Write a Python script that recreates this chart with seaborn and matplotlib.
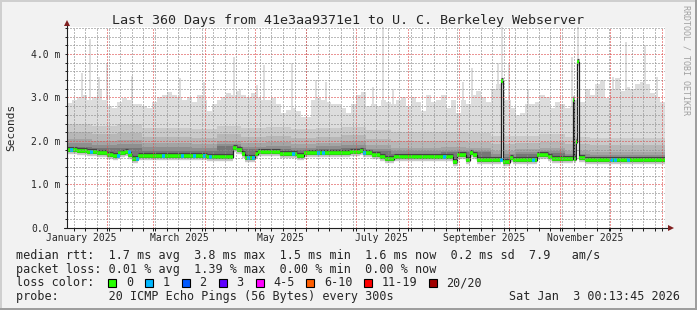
import numpy as np
import pandas as pd
import matplotlib
matplotlib.use("Agg")
import matplotlib.pyplot as plt
import matplotlib.transforms as mtransforms
from matplotlib.patches import Rectangle
import seaborn as sns

# ------------------------------------------------------------------ data
title = "Last 360 Days from 41e3aa9371e1 to U. C. Berkeley Webserver"
start_time = "2025-01-08 00:13:45"
span_days = 360

# light smoke (max ping) envelope, 3-day bins, ms
max_bin_days = 3
max_ms = [2.87, 2.95, 3.00, 3.05, 2.95, 3.00, 3.20, 2.95, 2.80, 2.75,
          2.90, 2.98, 2.95, 2.85, 2.85, 2.80, 2.75, 2.90, 3.00, 3.05,
          3.13, 3.05, 3.00, 2.95, 3.00, 2.90, 3.05, 2.95, 2.70, 2.85,
          2.95, 3.00, 3.10, 3.05, 3.15, 3.05, 3.00, 3.10, 3.00, 2.95,
          2.95, 2.98, 2.85, 2.65, 2.72, 2.75, 2.70, 2.55, 2.55, 2.95,
          2.98, 2.95, 2.90, 2.85, 2.85, 2.75, 2.65, 2.85, 3.05, 3.13,
          2.80, 2.85, 2.80, 2.95, 2.90, 2.85, 2.95, 3.00, 2.80, 3.00,
          2.90, 2.70, 3.05, 2.90, 2.95, 3.05, 2.75, 2.95, 2.65, 2.95,
          2.85, 3.05, 3.15, 3.00, 2.90, 3.20, 3.30, 2.95, 2.95, 2.75,
          2.60, 2.65, 2.85, 2.85, 2.90, 3.05, 3.00, 2.75, 2.90, 2.85,
          2.75, 2.80, 2.95, 2.90, 3.20, 3.05, 3.30, 3.40, 2.98, 3.20,
          3.45, 3.15, 3.25, 3.20, 3.30, 3.35, 3.30, 3.10, 3.00, 2.90]

# narrow max-ping spikes (day, ms)
spike_day = [9.0, 13.8, 19.3, 23.8, 39.1, 68.3, 82.5, 100.5, 104.2, 114.4,
             118.6, 135.2, 149.9, 155.9, 184.2, 190.5, 196.3, 238.4, 243.8,
             259.5, 261.9, 266.1, 277.5, 304.0, 307.6, 328.7, 336.5, 347.9,
             355.1]
spike_ms = [3.56, 4.34, 3.48, 3.80, 3.49, 3.44, 3.36, 3.94, 3.19, 3.29,
            3.75, 3.79, 3.40, 3.35, 3.25, 4.70, 3.20, 3.36, 3.67,
            3.79, 4.70, 3.79, 3.20, 3.94, 4.70, 3.48, 4.28, 4.20,
            3.48]

# inner smoke band tops, 15-day bins, ms
band_bin_days = 15
band2_ms = [2.40, 2.35, 2.38, 2.30, 2.30, 2.28, 2.35, 2.30, 2.32, 2.28, 2.30, 2.33,
            2.25, 2.20, 2.20, 2.20, 2.18, 2.12, 2.12, 2.15, 2.10, 2.08, 2.08, 2.08]
band3_ms = [2.20, 2.15, 2.18, 2.10, 2.10, 2.08, 2.15, 2.10, 2.12, 2.08, 2.10, 2.13,
            2.05, 2.00, 2.00, 2.00, 1.98, 1.93, 1.95, 1.97, 1.92, 1.90, 1.90, 1.90]
band4_ms = [2.05, 2.00, 2.02, 1.95, 1.95, 1.93, 2.00, 1.95, 1.98, 1.94, 1.96, 1.99,
            1.90, 1.85, 1.85, 1.86, 1.84, 1.78, 1.82, 1.84, 1.77, 1.75, 1.75, 1.75]
band5_ms = [1.95, 1.91, 1.92, 1.86, 1.86, 1.84, 1.92, 1.87, 1.89, 1.85, 1.88, 1.90,
            1.82, 1.76, 1.76, 1.78, 1.76, 1.70, 1.75, 1.77, 1.69, 1.67, 1.67, 1.67]
band6_ms = [1.87, 1.84, 1.84, 1.78, 1.78, 1.77, 1.88, 1.82, 1.82, 1.79, 1.82, 1.85,
            1.78, 1.71, 1.71, 1.74, 1.74, 1.64, 1.70, 1.72, 1.63, 1.62, 1.62, 1.62]
band_colors = ["#dddddd", "#cacaca", "#b7b7b7", "#a4a4a4", "#8f8f8f", "#767676"]

# median rtt step function: segment start day and value (ms)
median_day = [0, 6, 12, 18, 24, 27.7, 30.7, 34.9, 37, 39.1,
              42.7, 84.3, 100.2, 102.3, 105.4, 107.2, 113.2, 115, 122.2, 128.2,
              138.5, 142.7, 170.4, 176.4, 178.2, 183.6, 188.4, 191.4, 196.9, 232.4,
              234.8, 240.2, 242.6, 244.7, 246.8, 261.5, 262.3, 266.7, 268.5, 283,
              289.6, 292, 304.5, 305.4, 306.4, 307.3, 308.2, 311.9]
median_ms = [1.79, 1.77, 1.74, 1.72, 1.68, 1.66, 1.72, 1.75, 1.68, 1.58,
             1.66, 1.64, 1.85, 1.79, 1.70, 1.60, 1.70, 1.75, 1.74, 1.69,
             1.66, 1.72, 1.75, 1.78, 1.73, 1.68, 1.64, 1.58, 1.64, 1.52,
             1.68, 1.56, 1.72, 1.67, 1.57, 3.38, 1.52, 1.60, 1.56, 1.68,
             1.63, 1.58, 2.94, 1.58, 1.98, 3.82, 1.60, 1.56]
# days where one of 20 pings was lost
loss1_day = [1.8, 13.8, 30, 36.7, 41.5, 57.2, 68.6, 75.9, 81.9, 85.5, 108.4,
             111.4, 135.5, 150.5, 153.5, 178.2, 226.4, 260.7, 280, 327, 329.3, 337.2]
loss1_len_days = 1.8

ytick_vals = [0, 1, 2, 3, 4]
ytick_labels = ["0.0", "1.0 m", "2.0 m", "3.0 m", "4.0 m"]
y_top_ms = 4.62
xlabel_months = ["2025-01", "2025-03", "2025-05", "2025-07", "2025-09", "2025-11"]
xlabel_text = ["January 2025", "March 2025", "May 2025", "July 2025",
               "September 2025", "November 2025"]

loss_labels = ["0", "1", "2", "3", "4-5", "6-10", "11-19", "20/20"]
loss_colors = ["#26ff00", "#00b8ff", "#0059ff", "#5e00ff", "#ff00ff",
               "#ff5e00", "#ff0000", "#a10000"]

legend_rows = [
    "median rtt:  1.7 ms avg  3.8 ms max  1.5 ms min  1.6 ms now  0.2 ms sd  7.9   am/s",
    "packet loss: 0.01 % avg  1.39 % max  0.00 % min  0.00 % now",
]
loss_row_label = "loss color:"
probe_text = "probe:       20 ICMP Echo Pings (56 Bytes) every 300s"
date_text = "Sat Jan  3 00:13:45 2026"
watermark = "RRDTOOL / TOBI OETIKER"
ylabel = "Seconds"

# ------------------------------------------------------------------ style
sns.set_theme(style="white")
MONO = "DejaVu Sans Mono"
plt.rcParams["font.family"] = [MONO, "DejaVu Sans"]
GRID_C = (0.56, 0.56, 0.56, 0.6)
MGRID_C = (0.87, 0.31, 0.31, 0.6)
AXIS_C = "#1f1f1f"
ARROW_C = "#801f1f"
W, H = 697, 310

fig = plt.figure(figsize=(W / 100, H / 100), dpi=100, facecolor="#f2f2f2")
ax = fig.add_axes([67 / W, 1 - 228 / H, 598 / W, 201 / H])
ax.set_facecolor("white")
for s in ax.spines.values():
    s.set_visible(False)
ax.set_xlim(0, span_days)
ax.set_ylim(0, y_top_ms)

t0 = pd.Timestamp(start_time)


def to_day(ts):
    return (pd.Timestamp(ts) - t0) / pd.Timedelta(days=1)


def step_at(starts, vals, x):
    idx = np.searchsorted(np.asarray(starts), x, side="right") - 1
    return np.asarray(vals)[np.clip(idx, 0, len(vals) - 1)]


max_starts = np.arange(len(max_ms)) * max_bin_days
band_starts = np.arange(len(band2_ms)) * band_bin_days
med_x = np.asarray(median_day, float)
med_y = np.asarray(median_ms, float)
ends = np.append(med_x[1:], span_days)
grid = np.unique(np.concatenate([max_starts, band_starts, med_x, [span_days]]))
med_g = step_at(med_x, med_y, grid)

# light halo under median (min pings)
ax.hlines(med_y, med_x, ends, colors="#c9c9c9", lw=6.0, zorder=1, capstyle="butt")

# smoke bands
tops = [max_ms, band2_ms, band3_ms, band4_ms, band5_ms, band6_ms]
starts = [max_starts] + [band_starts] * 5
for i, (top, st, col) in enumerate(zip(tops, starts, band_colors)):
    top_g = step_at(st, top, grid)
    ax.fill_between(grid, med_g, np.maximum(top_g, med_g), step="post",
                    color=col, lw=0, zorder=2)
    if i == 0:
        sb = step_at(med_x, med_y, spike_day)
        ax.bar(spike_day, np.asarray(spike_ms) - sb, bottom=sb, width=1.2,
               color=col, lw=0, zorder=2)

# dark shadow around median (horizontal parts only)
shift = mtransforms.offset_copy(ax.transData, fig=fig, x=0, y=1.0, units="dots")
ax.hlines(med_y, med_x, ends, colors="#454545", lw=3.7, zorder=3,
          transform=shift, capstyle="butt")

# black median line
line_x = np.append(med_x, span_days)
line_y = np.append(med_y, med_y[-1])
sns.lineplot(x=line_x, y=line_y, drawstyle="steps-post", color="#202020",
             lw=0.9, estimator=None, sort=False, ax=ax, zorder=4)

# loss-coloured median band
ax.hlines(med_y, med_x, ends, colors=loss_colors[0], lw=2.6, zorder=5,
          capstyle="butt")
ld = np.asarray(loss1_day)
ax.hlines(step_at(med_x, med_y, ld), ld, ld + loss1_len_days,
          colors=loss_colors[1], lw=2.6, zorder=5, capstyle="butt")

# grid (dotted, crisp)
dots = (0, (1, 1))
for k in range(1, int(y_top_ms / 0.2) + 1):
    yv = round(k * 0.2, 1)
    c = MGRID_C if abs(yv - round(yv)) < 1e-6 else GRID_C
    ax.axhline(yv, color=c, lw=1.0, ls=dots, zorder=10, antialiased=False)
week_days = [to_day(d) for d in pd.date_range("2025-01-12", "2026-01-03", freq="7D")]
month_days = [to_day(d) for d in pd.date_range("2025-02-01", "2026-01-01", freq="MS")]
for d in week_days:
    ax.axvline(d, color=GRID_C, lw=1.0, ls=dots, zorder=10, antialiased=False)
for d in month_days:
    ax.axvline(d, color=MGRID_C, lw=1.0, ls=dots, zorder=10, antialiased=False)

# ticks and labels
ax.set_yticks(ytick_vals)
ax.set_yticklabels(ytick_labels, family=MONO, fontsize=7, ha="left")
ax.set_yticks([round(k * 0.2, 1) for k in range(1, 24)], minor=True)
ax.tick_params(axis="y", which="both", direction="out", length=1.5, width=0.72,
               color=AXIS_C, left=True)
ax.tick_params(axis="y", which="major", pad=24.5)

lab_days = []
for m in xlabel_months:
    a = pd.Timestamp(m + "-01")
    b = a + pd.offsets.MonthBegin(1)
    lab_days.append((to_day(a) + to_day(b)) / 2)
ax.set_xticks(lab_days)
ax.set_xticklabels(xlabel_text, family=MONO, fontsize=7)
ax.set_xticks(sorted(week_days + month_days), minor=True)
ax.tick_params(axis="x", which="major", length=0, pad=3.3, bottom=True)
ax.tick_params(axis="x", which="minor", direction="out", length=2, width=0.72,
               color=AXIS_C, bottom=True)
ax.grid(False)

# axis lines and arrows
ax.plot([0, 0], [0, 1 + 5 / 201], transform=ax.transAxes, color=AXIS_C, lw=0.8,
        clip_on=False, zorder=11)
ax.plot([-3 / 598, 1 + 5 / 598], [0, 0], transform=ax.transAxes, color=AXIS_C,
        lw=0.8, clip_on=False, zorder=11)
ax.plot([0], [1 + 4.5 / 201], marker="^", ms=4, color=ARROW_C, mew=0,
        transform=ax.transAxes, clip_on=False, zorder=12)
ax.plot([1 + 6 / 598], [0], marker=">", ms=4, color=ARROW_C, mew=0,
        transform=ax.transAxes, clip_on=False, zorder=12)

# texts
fig.text(0.5, 1 - 24 / H, title, ha="center", va="baseline", family=MONO,
         fontsize=9.65)
fig.text(11 / W, 1 - 127.5 / H, ylabel, rotation=90, ha="center", va="center",
         family=MONO, fontsize=8)
fig.text(686 / W, 1 - 5 / H, watermark, rotation=-90, ha="center", va="top",
         family=MONO, fontsize=6, color="#a0a0a0")

LEG = 8.5
row_base = [258.5, 272.5, 286.5, 300]
for txt, yb in zip(legend_rows, row_base[:2]):
    fig.text(16 / W, 1 - yb / H, txt, va="baseline", family=MONO, fontsize=LEG)
fig.text(16 / W, 1 - row_base[2] / H, loss_row_label, va="baseline", family=MONO,
         fontsize=LEG)
cx = 108.4
char_w = 7.0
box_c = row_base[2] - 4
for lab, col in zip(loss_labels, loss_colors):
    fig.add_artist(Rectangle((cx / W, 1 - (box_c + 4) / H), 8 / W, 8 / H,
                             transform=fig.transFigure, facecolor=col,
                             edgecolor="black", lw=0.8))
    fig.text((cx + 17.4) / W, 1 - row_base[2] / H, lab, va="baseline",
             family=MONO, fontsize=LEG)
    cx = cx + 17.4 + len(lab) * char_w + 12.4
fig.text(16 / W, 1 - row_base[3] / H, probe_text, va="baseline", family=MONO,
         fontsize=LEG)
fig.text(680 / W, 1 - row_base[3] / H, date_text, va="baseline", ha="right",
         family=MONO, fontsize=LEG)

# 3D frame
fig.add_artist(Rectangle((0, 1 - 2 / H), 1, 2 / H, transform=fig.transFigure,
                         color="#cfcfcf", lw=0))
fig.add_artist(Rectangle((0, 0), 2 / W, 1, transform=fig.transFigure,
                         color="#cfcfcf", lw=0))
fig.add_artist(Rectangle((0, 0), 1, 2 / H, transform=fig.transFigure,
                         color="#9e9e9e", lw=0))
fig.add_artist(Rectangle((1 - 2 / W, 0), 2 / W, 1, transform=fig.transFigure,
                         color="#9e9e9e", lw=0))

fig.savefig("out.png", dpi=100, facecolor=fig.get_facecolor())
